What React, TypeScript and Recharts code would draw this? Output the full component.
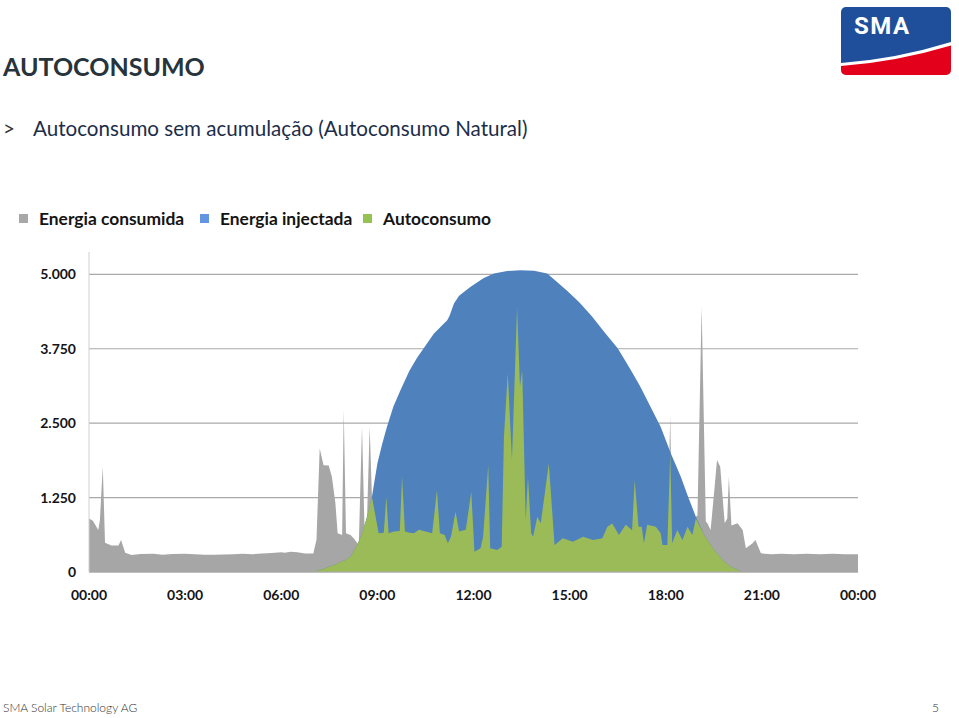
import { AreaChart, Area, XAxis, YAxis, CartesianGrid, Legend } from "recharts";

// consumo antes do sol (W)
const madrugadaHoras = [
  0, 0.12, 0.29, 0.34, 0.43, 0.5, 0.7, 0.92, 1.0, 1.13, 1.33, 1.6, 2.0, 2.3, 2.6, 3.0, 3.3, 3.6, 3.9, 4.2,
  4.5, 4.8, 5.1, 5.4, 5.7, 6.0, 6.1, 6.3, 6.5, 6.75, 7.0, 7.1, 7.2, 7.32, 7.48, 7.58, 7.69, 7.76, 7.9,
  7.95, 8.02, 8.16, 8.26, 8.42, 8.52, 8.6, 8.68, 8.76, 8.83,
];
const madrugadaW = [
  900, 860, 705, 870, 1767, 492, 447, 447, 537, 324, 285, 302, 305, 290, 302, 305, 298, 290, 290, 295,
  300, 305, 300, 310, 320, 330, 324, 340, 330, 310, 310, 540, 2075, 1795, 1790, 1600, 1153, 650, 620,
  2730, 650, 620, 565, 453, 2440, 700, 950, 2440, 1264,
];

// consumo durante o dia (todo coberto pela produção)
const diaHoras = [
  9.04, 9.2, 9.28, 9.35, 9.51, 9.7, 9.77, 9.86, 10.0, 10.14, 10.3, 10.5, 10.71, 10.86, 10.95, 11.1, 11.2,
  11.3, 11.44, 11.55, 11.76, 11.93, 12.03, 12.22, 12.3, 12.46, 12.52, 12.74, 12.88, 12.95, 13.07, 13.2,
  13.36, 13.45, 13.52, 13.63, 13.7, 13.8, 13.86, 13.99, 14.1, 14.35, 14.53, 14.79, 15.1, 15.42, 15.73,
  16.02, 16.18, 16.33, 16.54, 16.75, 16.95, 17.03, 17.15, 17.25, 17.32, 17.42, 17.69, 17.84, 17.9, 18.05,
];
const diaW = [
  650, 660, 1264, 650, 680, 690, 1600, 680, 660, 650, 710, 680, 650, 1376, 650, 620, 481,
  600, 1012, 680, 710, 1348, 341, 397, 592, 1795, 397, 369, 425, 2270, 3334, 1880,
  4452, 3110, 3390, 873, 1600, 650, 593, 928, 820, 1823, 453, 565, 510, 593, 537,
  565, 760, 816, 620, 793, 700, 1544, 760, 760, 481, 793, 760, 650, 453, 453,
];

// consumo ao fim do dia
const noiteHoras = [
  18.14, 18.2, 18.36, 18.52, 18.68, 18.83, 18.94, 18.99, 19.12, 19.25, 19.3, 19.4, 19.52, 19.6, 19.7,
  19.84, 19.92, 19.97, 20.05, 20.24, 20.4, 20.5, 20.7, 20.8, 20.97, 21.3, 21.6, 22.0, 22.4, 22.8, 23.2,
  23.6, 24.0,
];
const noiteW = [
  2635, 481, 705, 537, 760, 620, 930, 950, 4450, 850, 817, 705, 1400, 1880, 1766,
  817, 900, 1600, 780, 817, 705, 397, 480, 537, 313, 300, 305, 298, 305, 300, 305,
  300, 300,
];

// produção fotovoltaica (W)
const producaoHoras = [
  7.0, 7.3, 7.64, 8.0, 8.16, 8.37, 8.52, 8.68, 8.83, 9.0, 9.15, 9.3, 9.5, 9.72, 10.0, 10.24, 10.5, 10.76,
  11.0, 11.18, 11.25, 11.39, 11.55, 11.9, 12.32, 12.64, 13.05, 13.47, 13.89, 14.3, 14.5, 14.93, 15.3,
  15.7, 16.1, 16.5, 16.9, 17.2, 17.5, 17.84, 18.16, 18.47, 18.7, 18.94, 19.2, 19.51, 19.8, 20.03, 20.4,
];
const producaoW = [
  0, 50, 117, 200, 257, 453, 650, 928, 1264, 1823, 2150, 2438, 2780, 3054, 3380, 3600, 3800, 4000,
  4130, 4229, 4300, 4508, 4640, 4788, 4940, 5012, 5057, 5068, 5060, 5012, 4920, 4720, 4530,
  4290, 4020, 3760, 3400, 3120, 2800, 2440, 1990, 1600, 1260, 928, 620, 369, 190, 89, 0,
];

// autoconsumo: subida da manhã e descida da tarde
const subidaHoras = [7.0, 7.3, 7.64, 8.0, 8.16, 8.37, 8.52, 8.68, 8.83];
const subidaW = [0, 50, 117, 200, 257, 453, 650, 928, 1264];
const descidaHoras = [18.14, 18.2, 18.36, 18.52, 18.68, 18.83, 18.94, 19.2, 19.51, 19.8, 20.03, 20.4];
const descidaW = [1990, 481, 705, 537, 760, 620, 900, 620, 369, 190, 89, 0];

const series = ["Energia consumida", "Energia injectada", "Autoconsumo"];
const horasTicks = [0, 3, 6, 9, 12, 15, 18, 21, 24];
const wattsTicks = [0, 1250, 2500, 3750, 5000];

const pontos = (horas: number[], valores: number[]) =>
  horas.map((hora, i) => ({ hora, w: valores[i] }));

const consumoData = [
  ...pontos(madrugadaHoras, madrugadaW),
  ...pontos(diaHoras, diaW),
  ...pontos(noiteHoras, noiteW),
];
const injectadaData = pontos(producaoHoras, producaoW);
const autoconsumoData = [
  ...pontos(subidaHoras, subidaW),
  ...pontos(diaHoras, diaW),
  ...pontos(descidaHoras, descidaW),
];

const FONT = "Lato, 'Open Sans', sans-serif";
const CINZA = "#a6a6a6";
const AZUL = "#4f81bd";
const VERDE = "#9bbb59";
const marcadores: Record<string, string> = {
  "Energia consumida": "#a8a8a8",
  "Energia injectada": "#6295e2",
  Autoconsumo: "#95c253",
};
const largurasLegenda = [181, 163, 140];

function formatWatts(v: number) {
  return String(v).replace(/\B(?=(\d{3})+(?!\d))/g, ".");
}

function formatHora(h: number) {
  return `${String(h % 24).padStart(2, "0")}:00`;
}

function Legenda({ payload }: { payload?: Array<{ value: string }> }) {
  const itens = [...(payload ?? [])].sort(
    (a, b) => series.indexOf(a.value) - series.indexOf(b.value)
  );
  return (
    <div
      style={{
        display: "flex",
        height: 46,
        paddingTop: 3,
        boxSizing: "border-box",
        fontFamily: FONT,
        fontWeight: 700,
        fontSize: 17.4,
        color: "#141414",
      }}
    >
      {itens.map((p, i) => (
        <div
          key={p.value}
          style={{ display: "flex", alignItems: "center", height: 18, width: largurasLegenda[i] }}
        >
          <span
            style={{ width: 9, height: 9, marginRight: 11, background: marcadores[p.value] }}
          />
          <span style={{ whiteSpace: "nowrap" }}>{p.value}</span>
        </div>
      ))}
    </div>
  );
}

function LogoSMA() {
  return (
    <svg width={110} height={68} style={{ position: "absolute", left: 841, top: 7 }}>
      <defs>
        <clipPath id="logoClip">
          <rect width={110} height={68} rx={5} />
        </clipPath>
      </defs>
      <g clipPath="url(#logoClip)">
        <rect width={110} height={68} fill="#1f4f9b" />
        <path d="M0 56 Q55 52 110 35 L110 68 L0 68 Z" fill="#ffffff" />
        <path d="M0 59 Q55 55 110 38.5 L110 68 L0 68 Z" fill="#e2001a" />
      </g>
      <text
        x={13}
        y={27}
        fill="#ffffff"
        fontFamily="Roboto, sans-serif"
        fontWeight={700}
        fontSize={24}
        letterSpacing={1.5}
      >
        SMA
      </text>
    </svg>
  );
}

export default function App() {
  return (
    <div
      style={{
        position: "absolute",
        left: 0,
        top: 0,
        width: 959,
        height: 718,
        background: "#fff",
        overflow: "hidden",
        fontFamily: FONT,
      }}
    >
      <div
        style={{
          position: "absolute",
          left: 3,
          top: 54,
          fontSize: 25,
          lineHeight: "25px",
          fontWeight: 700,
          color: "#27343b",
          whiteSpace: "nowrap",
        }}
      >
        AUTOCONSUMO
      </div>
      <div
        style={{
          position: "absolute",
          left: 3,
          top: 118,
          fontSize: 20.6,
          lineHeight: "21px",
          color: "#1c2d4a",
          whiteSpace: "nowrap",
        }}
      >
        <span style={{ display: "inline-block", width: 30, color: "#333" }}>&gt;</span>
        Autoconsumo sem acumulação (Autoconsumo Natural)
      </div>

      <LogoSMA />

      <div style={{ position: "absolute", left: 0, top: 200 }}>
        <AreaChart width={959} height={420} margin={{ top: 6, right: 101, bottom: 18, left: 19 }}>
          <CartesianGrid
            horizontal
            vertical={false}
            horizontalValues={wattsTicks}
            stroke="#a9a9a9"
            strokeWidth={1.2}
          />
          <XAxis
            type="number"
            dataKey="hora"
            domain={[0, 24]}
            ticks={horasTicks}
            tickFormatter={formatHora}
            allowDuplicatedCategory={false}
            axisLine={{ stroke: "#a9a9a9" }}
            tickLine={false}
            tickMargin={12}
            tick={{ fontFamily: FONT, fontSize: 14, fontWeight: 700, fill: "#141414" }}
          />
          <YAxis
            type="number"
            domain={[0, 5375]}
            ticks={wattsTicks}
            tickFormatter={formatWatts}
            width={70}
            axisLine={{ stroke: "#d0d0d0" }}
            tickLine={false}
            tickMargin={7}
            tick={{ fontFamily: FONT, fontSize: 14, fontWeight: 700, fill: "#141414" }}
          />
          <Legend verticalAlign="top" align="left" content={<Legenda />} />
          <Area
            name="Energia consumida"
            data={consumoData}
            dataKey="w"
            type="linear"
            stroke="none"
            fill={CINZA}
            fillOpacity={1}
            isAnimationActive={false}
          />
          <Area
            name="Energia injectada"
            data={injectadaData}
            dataKey="w"
            type="linear"
            stroke="none"
            fill={AZUL}
            fillOpacity={1}
            isAnimationActive={false}
          />
          <Area
            name="Autoconsumo"
            data={autoconsumoData}
            dataKey="w"
            type="linear"
            stroke="none"
            fill={VERDE}
            fillOpacity={1}
            isAnimationActive={false}
          />
        </AreaChart>
      </div>

      <div
        style={{
          position: "absolute",
          left: 3,
          top: 702,
          fontSize: 12,
          lineHeight: "12px",
          fontWeight: 300,
          color: "#333",
          whiteSpace: "nowrap",
        }}
      >
        SMA Solar Technology AG
      </div>
      <div
        style={{
          position: "absolute",
          left: 932,
          top: 702,
          fontSize: 12,
          lineHeight: "12px",
          fontWeight: 300,
          color: "#333",
        }}
      >
        5
      </div>
    </div>
  );
}
